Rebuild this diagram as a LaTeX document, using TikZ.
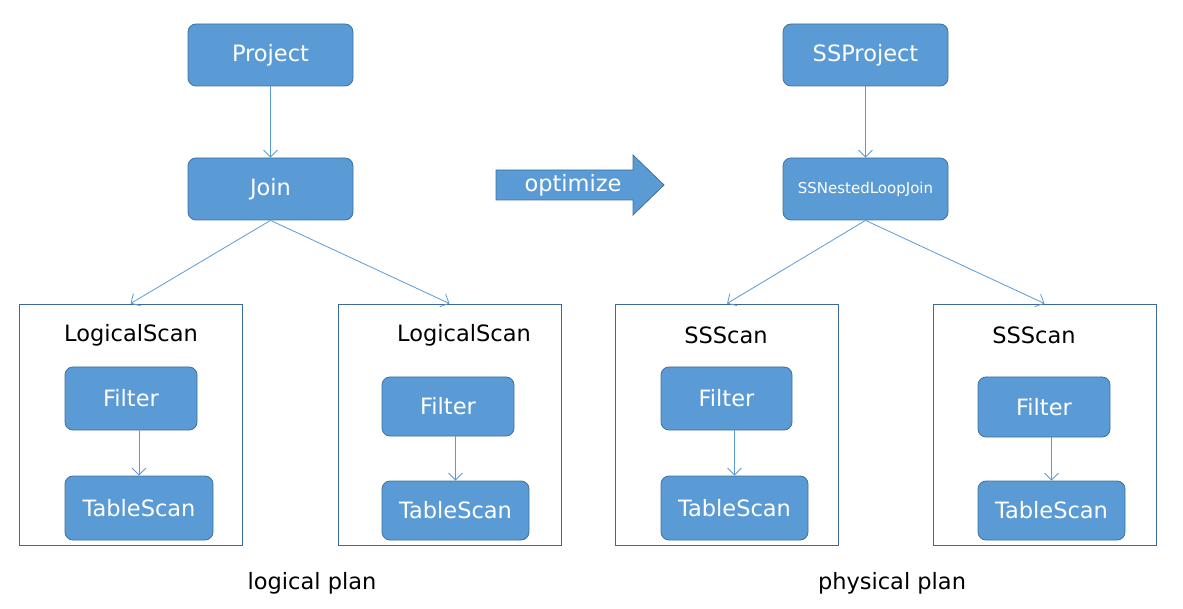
\documentclass[tikz,border=0pt]{standalone}
\usepackage{fontspec}
\setmainfont{DejaVu Sans}
\usetikzlibrary{arrows.meta}
\definecolor{nodefill}{HTML}{5B9BD5}
\definecolor{nodeline}{HTML}{41719C}
\definecolor{arrcol}{HTML}{5B9BD5}
\definecolor{boxline}{HTML}{3A6A9A}
\tikzset{
  opnode/.style={rectangle, rounded corners=8pt, draw=nodeline, line width=0.8pt, fill=nodefill, text=white, inner sep=0pt, font=\fontsize{22.5}{26}\selectfont},
  grp/.style={rectangle, draw=boxline, line width=0.9pt, inner sep=0pt, minimum width=223pt, minimum height=241pt},
  ttl/.style={inner sep=0pt, text=black, font=\fontsize{22.5}{26}\selectfont},
  conn/.style={draw=arrcol, line width=0.8pt, -{Straight Barb[length=7pt,width=14pt,line width=0.8pt]}},
  plan/.style={inner sep=0pt, text=black, font=\fontsize{22.5}{26}\selectfont}
}
\begin{document}
\begin{tikzpicture}[x=1pt,y=-1pt]
\useasboundingbox (0,0) rectangle (1183,609);
% logical side
\node[opnode, minimum width=165pt, minimum height=62pt] (proj) at (270.5,55) {Project};
\node[opnode, minimum width=165pt, minimum height=62pt] (join) at (270.5,189) {Join};
\node[grp] (box1) at (130.5,424.5) {};
\node[grp] (box2) at (449.5,424.5) {};
\node[ttl] (t1) at (131,335) {LogicalScan};
\node[ttl] (t2) at (464,335) {LogicalScan};
\node[opnode, minimum width=132pt, minimum height=63pt] (f1) at (131,398.5) {Filter};
\node[opnode, minimum width=148pt, minimum height=64pt] (s1) at (139,508) {TableScan};
\node[opnode, minimum width=132pt, minimum height=59pt] (f2) at (448,406.5) {Filter};
\node[opnode, minimum width=147pt, minimum height=59pt] (s2) at (455.5,510.5) {TableScan};
% physical side
\node[opnode, minimum width=165pt, minimum height=62pt] (sproj) at (865.5,55) {SSProject};
\node[opnode, minimum width=165pt, minimum height=62pt, font=\fontsize{15}{18}\selectfont] (sjoin) at (865.5,189) {SSNestedLoopJoin};
\node[grp] (box3) at (727,424.5) {};
\node[grp] (box4) at (1044.5,424.5) {};
\node[ttl] (t3) at (726,335) {SSScan};
\node[ttl] (t4) at (1034,335) {SSScan};
\node[opnode, minimum width=131pt, minimum height=63pt] (f3) at (726.5,398.5) {Filter};
\node[opnode, minimum width=147pt, minimum height=64pt] (s3) at (734.5,508) {TableScan};
\node[opnode, minimum width=132pt, minimum height=60pt] (f4) at (1044,407) {Filter};
\node[opnode, minimum width=147pt, minimum height=59pt] (s4) at (1051.5,510.5) {TableScan};
% optimize arrow
\filldraw[fill=nodefill, draw=nodeline, line width=0.8pt] (496,170) -- (633,170) -- (633,155) -- (664,185) -- (633,215) -- (633,200) -- (496,200) -- cycle;
\node[inner sep=0pt, text=white, font=\fontsize{22.5}{26}\selectfont] (opt) at (573,185) {optimize};
% connectors
\draw[conn] (proj) -- (join);
\draw[conn] (join.south) -- (box1.north);
\draw[conn] (join.south) -- (box2.north);
\draw[conn] (f1.south -| s1.north) -- (s1.north);
\draw[conn] (f2.south -| s2.north) -- (s2.north);
\draw[conn] (sproj) -- (sjoin);
\draw[conn] (sjoin.south) -- (box3.north);
\draw[conn] (sjoin.south) -- (box4.north);
\draw[conn] (f3.south -| s3.north) -- (s3.north);
\draw[conn] (f4.south -| s4.north) -- (s4.north);
% captions
\node[plan] (lp) at (312,583) {logical plan};
\node[plan] (pp) at (892,583) {physical plan};
\end{tikzpicture}
\end{document}
